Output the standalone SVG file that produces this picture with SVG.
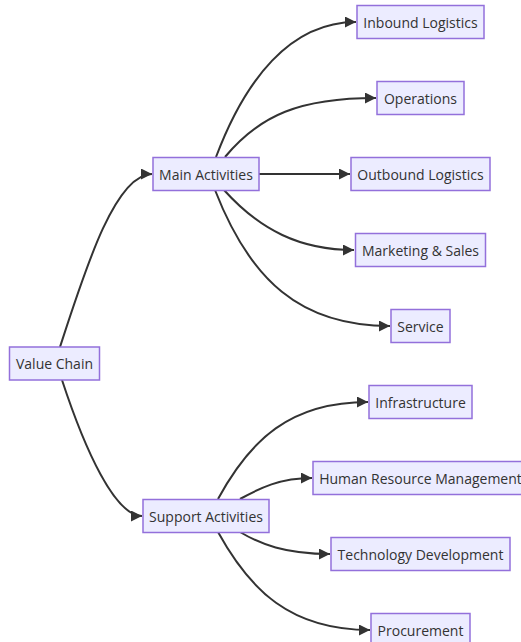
<svg xmlns="http://www.w3.org/2000/svg" width="521" height="642" viewBox="0 0 521 642">
<defs>
<marker id="arrow" viewBox="0 0 10 10" refX="10" refY="5" markerUnits="userSpaceOnUse" markerWidth="11" markerHeight="11" orient="auto">
<path d="M0,0 L10,5 L0,10 z" fill="#333333"/>
</marker>
</defs>
<style>
.node rect{fill:#ECECFF;stroke:#9370DB;stroke-width:1.5;}
.node text{font-family:"Open Sans","Liberation Sans",sans-serif;font-size:14px;fill:#333333;text-anchor:middle;dominant-baseline:central;}
.edges path{fill:none;stroke:#333333;stroke-width:2;marker-end:url(#arrow);}
</style>
<rect width="521" height="642" fill="#ffffff"/>
<g class="edges" id="connectors">
<path d="M60,347 C85,270 115,174 152,174"/>
<path d="M62,380 C85,450 115,516 142,516"/>
<path d="M216,157 C245,80 290,22 356,22"/>
<path d="M225,157 C260,115 300,98 376,98"/>
<path d="M259,174 L350,174"/>
<path d="M224,190 C260,230 300,250 354,250"/>
<path d="M215,190 C250,280 300,326 390,326"/>
<path d="M218,499 C250,440 290,402 368,402"/>
<path d="M240,499 C260,488 280,478 312,478"/>
<path d="M240,532 C260,544 285,554 330,554"/>
<path d="M218,532 C250,590 290,630 370,630"/>
</g>
<g class="node" id="value-chain"><rect x="9.5" y="347" width="90" height="33"/><text x="54.5" y="363.5">Value Chain</text></g>
<g class="node" id="main-activities"><rect x="153" y="157.5" width="106" height="33"/><text x="206" y="174">Main Activities</text></g>
<g class="node" id="support-activities"><rect x="143" y="499.5" width="126" height="33"/><text x="206" y="516">Support Activities</text></g>
<g class="node" id="inbound-logistics"><rect x="357" y="5.5" width="127" height="33"/><text x="420.5" y="22">Inbound Logistics</text></g>
<g class="node" id="operations"><rect x="377" y="81.5" width="87" height="33"/><text x="420.5" y="98">Operations</text></g>
<g class="node" id="outbound-logistics"><rect x="351" y="157.5" width="139" height="33"/><text x="420.5" y="174">Outbound Logistics</text></g>
<g class="node" id="marketing-sales"><rect x="355.5" y="233.5" width="130" height="33"/><text x="420.5" y="250">Marketing &amp; Sales</text></g>
<g class="node" id="service"><rect x="391" y="309.5" width="59" height="33"/><text x="420.5" y="326">Service</text></g>
<g class="node" id="infrastructure"><rect x="369" y="385.5" width="103" height="33"/><text x="420.5" y="402">Infrastructure</text></g>
<g class="node" id="human-resource-management"><rect x="313" y="461.5" width="215" height="33"/><text x="420.5" y="478">Human Resource Management</text></g>
<g class="node" id="technology-development"><rect x="331" y="537.5" width="179" height="33"/><text x="420.5" y="554">Technology Development</text></g>
<g class="node" id="procurement"><rect x="371" y="613.5" width="99" height="33"/><text x="420.5" y="630">Procurement</text></g>
</svg>
